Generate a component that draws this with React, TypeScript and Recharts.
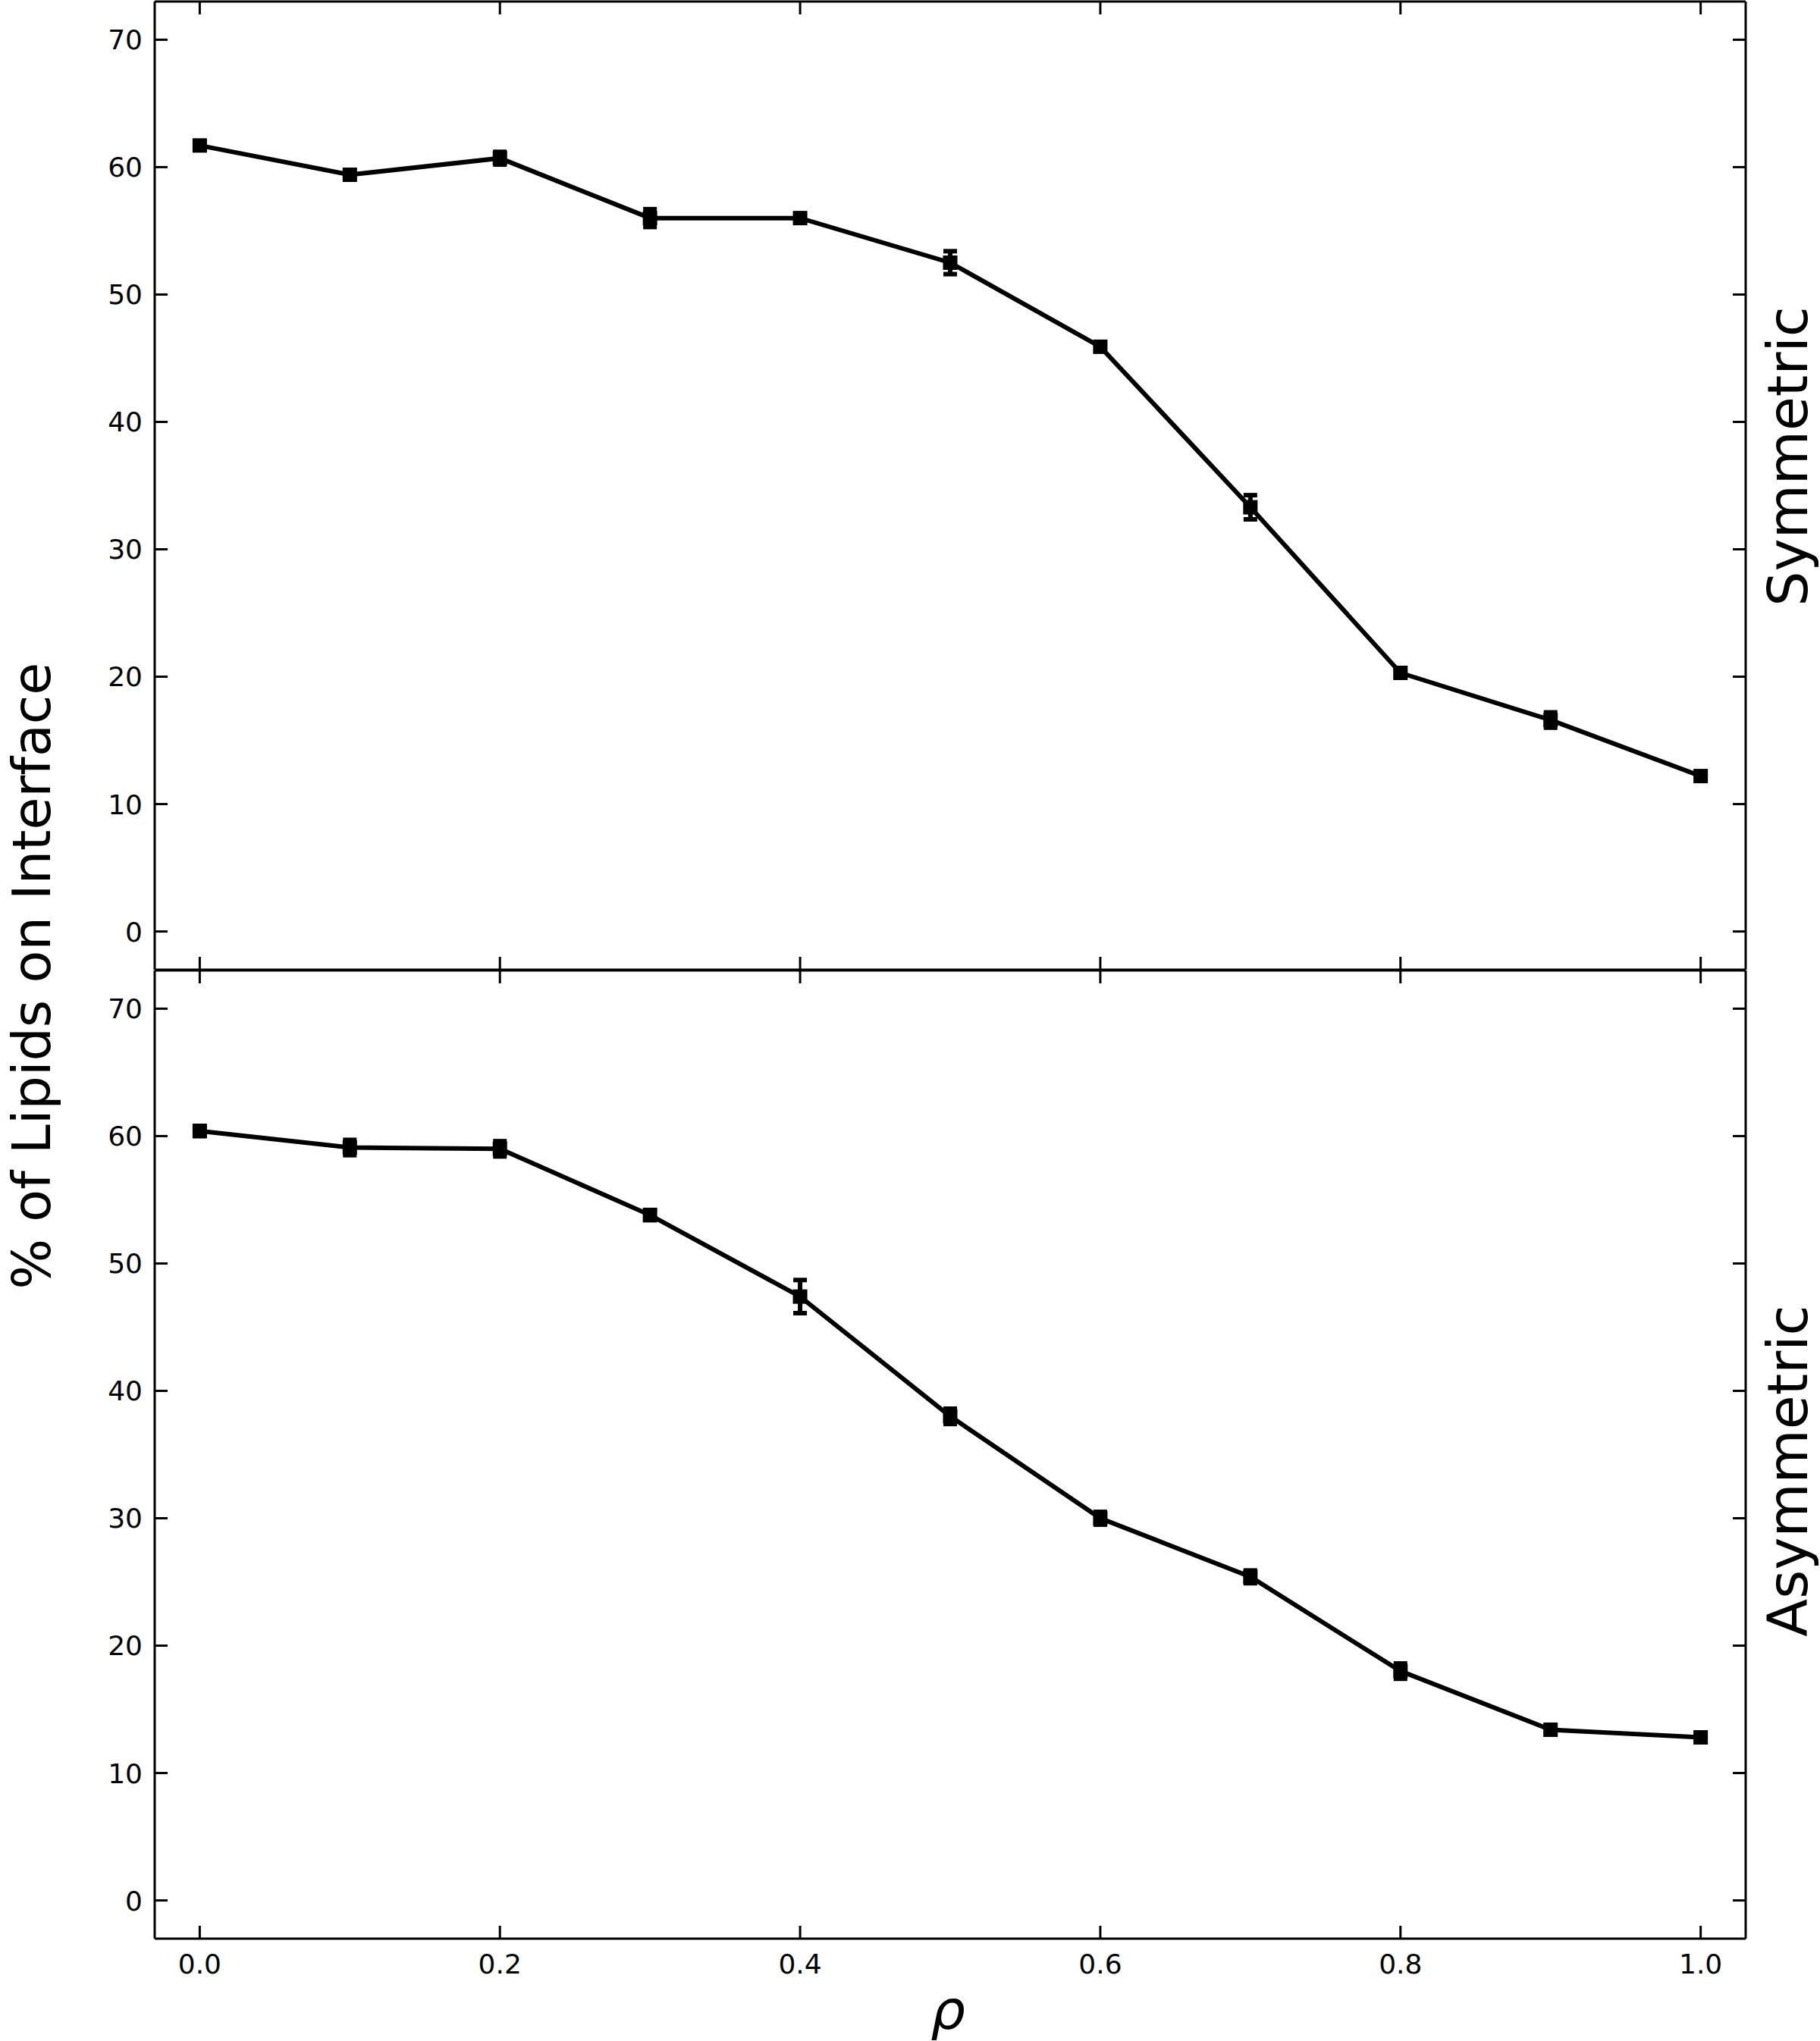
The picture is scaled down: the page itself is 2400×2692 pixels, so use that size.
import React from "react";
import { LineChart, Line, XAxis, YAxis, ErrorBar } from "recharts";

const rho = [0.0, 0.1, 0.2, 0.3, 0.4, 0.5, 0.6, 0.7, 0.8, 0.9, 1.0];
const symValues = [61.7, 59.4, 60.7, 56.0, 56.0, 52.5, 45.9, 33.3, 20.3, 16.6, 12.2];
const symErrors = [0.3, 0.3, 0.5, 0.7, 0.3, 0.9, 0.3, 0.95, 0.2, 0.6, 0.15];
const asymValues = [60.4, 59.1, 59.0, 53.8, 47.4, 38.0, 30.0, 25.4, 18.0, 13.4, 12.8];
const asymErrors = [0.4, 0.6, 0.6, 0.4, 1.3, 0.6, 0.5, 0.5, 0.6, 0.3, 0.3];

const xTicks = [0.0, 0.2, 0.4, 0.6, 0.8, 1.0];
const yTicks = [0, 10, 20, 30, 40, 50, 60, 70];
const xDomain = [-0.03, 1.03];
const yDomain = [-3, 73];

const yLabel = "% of Lipids on Interface";
const xLabel = "ρ";
const panelLabels = ["Symmetric", "Asymmetric"];

const FONT = "DejaVu Sans";
const TICK_LEN = 17;
const AXIS_W = 3;

const symData = rho.map((x, i) => ({ x, y: symValues[i], err: symErrors[i] }));
const asymData = rho.map((x, i) => ({ x, y: asymValues[i], err: asymErrors[i] }));

const LeftTick = (props: any) => {
  const { x, y, payload } = props;
  return (
    <g>
      <line x1={x} x2={x + TICK_LEN} y1={y} y2={y} stroke="#000" strokeWidth={AXIS_W} />
      <text x={x - 16} y={y} dy="0.36em" textAnchor="end" fontSize={36} fontFamily={FONT} fill="#000">
        {payload.value}
      </text>
    </g>
  );
};

const RightTick = (props: any) => {
  const { x, y } = props;
  return <line x1={x - TICK_LEN} x2={x} y1={y} y2={y} stroke="#000" strokeWidth={AXIS_W} />;
};

const TopTick = (props: any) => {
  const { x, y } = props;
  return <line x1={x} x2={x} y1={y} y2={y + TICK_LEN} stroke="#000" strokeWidth={AXIS_W} />;
};

const BottomTick = (props: any) => {
  const { x, y, payload, showLabel } = props;
  return (
    <g>
      <line x1={x} x2={x} y1={y - TICK_LEN} y2={y} stroke="#000" strokeWidth={AXIS_W} />
      {showLabel ? (
        <text x={x} y={y + 46} textAnchor="middle" fontSize={36} fontFamily={FONT} fill="#000">
          {Number(payload.value).toFixed(1)}
        </text>
      ) : null}
    </g>
  );
};

const SquareDot = (props: any) => {
  const { cx, cy } = props;
  if (cx == null || cy == null) return null;
  const s = 19;
  return <rect x={cx - s / 2} y={cy - s / 2} width={s} height={s} fill="#000" />;
};

const Panel = ({ data, height, bottomMargin, showXLabels }: any) => (
  <LineChart
    width={2400}
    height={height}
    data={data}
    margin={{ top: 1, right: 48, bottom: bottomMargin, left: 104 }}
  >
    <XAxis
      xAxisId="b"
      type="number"
      dataKey="x"
      domain={xDomain}
      ticks={xTicks}
      allowDataOverflow
      orientation="bottom"
      height={1}
      tickSize={0}
      tickMargin={0}
      tickLine={false}
      axisLine={{ stroke: "#000", strokeWidth: AXIS_W }}
      tick={<BottomTick showLabel={showXLabels} />}
      interval={0}
    />
    <XAxis
      xAxisId="t"
      type="number"
      dataKey="x"
      domain={xDomain}
      ticks={xTicks}
      allowDataOverflow
      orientation="top"
      height={1}
      tickSize={0}
      tickMargin={0}
      tickLine={false}
      axisLine={{ stroke: "#000", strokeWidth: AXIS_W }}
      tick={<TopTick />}
      interval={0}
    />
    <YAxis
      yAxisId="l"
      type="number"
      domain={yDomain}
      ticks={yTicks}
      allowDataOverflow
      orientation="left"
      width={100}
      tickSize={0}
      tickMargin={0}
      tickLine={false}
      axisLine={{ stroke: "#000", strokeWidth: AXIS_W }}
      tick={<LeftTick />}
      interval={0}
    />
    <YAxis
      yAxisId="r"
      type="number"
      domain={yDomain}
      ticks={yTicks}
      allowDataOverflow
      orientation="right"
      width={50}
      tickSize={0}
      tickMargin={0}
      tickLine={false}
      axisLine={{ stroke: "#000", strokeWidth: AXIS_W }}
      tick={<RightTick />}
      interval={0}
    />
    <Line
      xAxisId="b"
      yAxisId="l"
      type="linear"
      dataKey="y"
      stroke="#000"
      strokeWidth={6}
      dot={<SquareDot />}
      activeDot={false}
      isAnimationActive={false}
    >
      <ErrorBar dataKey="err" direction="y" width={9} strokeWidth={6} stroke="#000" isAnimationActive={false} />
    </Line>
  </LineChart>
);

export default function App() {
  return (
    <div style={{ position: "absolute", left: 0, top: 0, width: 2400, height: 2692, background: "#fff" }}>
      <div style={{ position: "absolute", left: 0, top: 0 }}>
        <Panel data={symData} height={1282} bottomMargin={2} showXLabels={false} />
      </div>
      <div style={{ position: "absolute", left: 0, top: 1278 }}>
        <Panel data={asymData} height={1380} bottomMargin={100} showXLabels={true} />
      </div>
      <svg
        width={2400}
        height={2692}
        style={{ position: "absolute", left: 0, top: 0, pointerEvents: "none" }}
      >
        <text
          transform="translate(66,1287) rotate(-90)"
          textAnchor="middle"
          fontSize={70}
          fontFamily={FONT}
          fill="#000"
        >
          {yLabel}
        </text>
        <text
          transform="translate(2383,602) rotate(-90)"
          textAnchor="middle"
          fontSize={73}
          fontFamily={FONT}
          fill="#000"
        >
          {panelLabels[0]}
        </text>
        <text
          transform="translate(2383,1940) rotate(-90)"
          textAnchor="middle"
          fontSize={73}
          fontFamily={FONT}
          fill="#000"
        >
          {panelLabels[1]}
        </text>
        <text x={1250} y={2676} textAnchor="middle" fontSize={72} fontStyle="italic" fontFamily={FONT} fill="#000">
          {xLabel}
        </text>
      </svg>
    </div>
  );
}
